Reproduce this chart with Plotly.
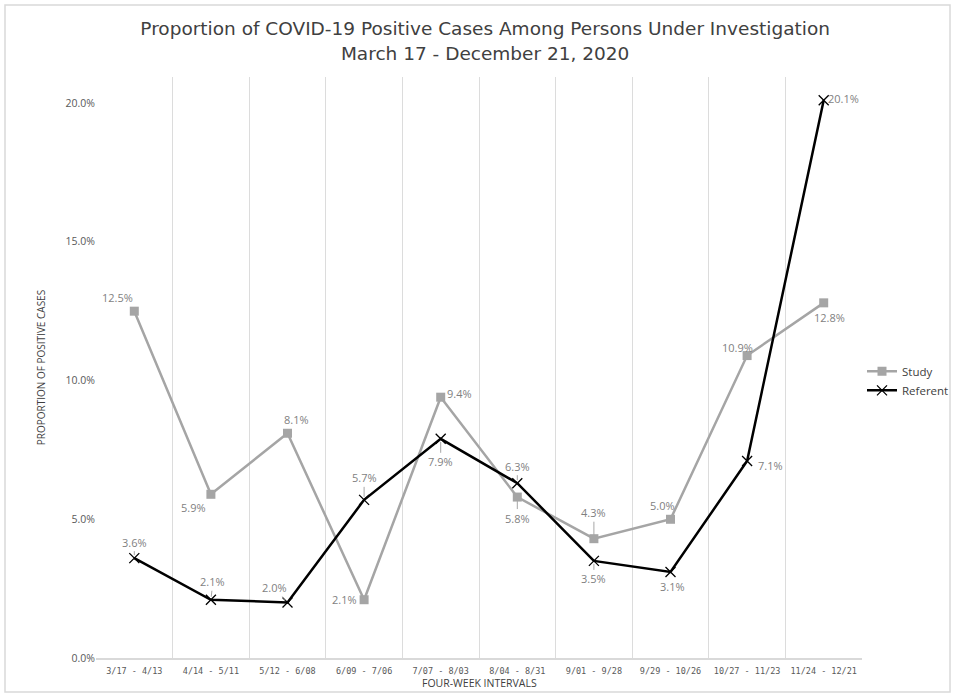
import plotly.graph_objects as go

intervals = ["3/17 - 4/13", "4/14 - 5/11", "5/12 - 6/08", "6/09 - 7/06", "7/07 - 8/03",
             "8/04 - 8/31", "9/01 - 9/28", "9/29 - 10/26", "10/27 - 11/23", "11/24 - 12/21"]
study = [12.5, 5.9, 8.1, 2.1, 9.4, 5.8, 4.3, 5.0, 10.9, 12.8]
referent = [3.6, 2.1, 2.0, 5.7, 7.9, 6.3, 3.5, 3.1, 7.1, 20.1]
y_ticks = [0, 5, 10, 15, 20]

# label offsets (px, right / up) and whether a leader line is drawn
study_off = [(-17, 14), (-17, -13), (9, 14), (-20, 0), (19, 4), (0, -21), (0, 26), (-8, 14), (-10, 8), (6, -15)]
study_lead = [False, False, False, False, False, True, True, False, False, False]
ref_off = [(0, 16), (2, 18), (-13, 15), (0, 22), (0, -23), (0, 17), (0, -18), (2, -15), (23, -4), (20, 2)]
ref_lead = [True, True, True, True, True, True, True, False, False, False]

fig = go.Figure()
fig.add_trace(go.Scatter(
    x=intervals, y=study, name="Study", mode="lines+markers",
    line=dict(color="#a5a5a5", width=2.5),
    marker=dict(symbol="square", size=9, color="#a5a5a5"),
))
fig.add_trace(go.Scatter(
    x=intervals, y=referent, name="Referent", mode="lines+markers",
    line=dict(color="#000000", width=2.5),
    marker=dict(symbol="x-thin", size=10, color="#000000", line=dict(width=1.3, color="#000000")),
))

label_font = dict(family="Open Sans, sans-serif", size=11, color="#7f7f7f")
annots = []
for ys, offs, leads in ((study, study_off, study_lead), (referent, ref_off, ref_lead)):
    for xv, yv, (dx, dy), lead in zip(intervals, ys, offs, leads):
        if lead:
            annots.append(dict(x=xv, y=yv, text=f"{yv:.1f}%", showarrow=True,
                               ax=dx, ay=-dy, arrowhead=0, arrowwidth=1, arrowcolor="#a6a6a6",
                               standoff=3, font=label_font))
        else:
            annots.append(dict(x=xv, y=yv, text=f"{yv:.1f}%", showarrow=False,
                               xshift=dx, yshift=dy, font=label_font))

annots.append(dict(x=0.5, y=-0.0585, xref="paper", yref="paper", text="FOUR-WEEK INTERVALS",
                   showarrow=False, yanchor="bottom",
                   font=dict(family="Open Sans, sans-serif", size=10.5, color="#404040")))
annots.append(dict(x=-0.084, y=0.5, xref="paper", yref="paper", text="PROPORTION OF POSITIVE CASES",
                   showarrow=False, textangle=-90,
                   font=dict(family="Open Sans, sans-serif", size=10, color="#404040")))

fig.update_layout(
    width=955, height=696,
    margin=dict(l=96, r=93, t=77, b=38, autoexpand=False),
    paper_bgcolor="white", plot_bgcolor="white",
    title=dict(text="Proportion of COVID-19 Positive Cases Among Persons Under Investigation<br>March 17 - December 21, 2020",
               x=0.508, xanchor="center", y=0.949, yanchor="top",
               font=dict(family="DejaVu Sans, sans-serif", size=18.5, color="#404040")),
    annotations=annots,
    showlegend=True,
    legend=dict(x=1.0, y=0.477, xanchor="left", yanchor="middle", bgcolor="rgba(0,0,0,0)",
                font=dict(family="Open Sans, sans-serif", size=11.5, color="#404040"),
                itemwidth=30),
    xaxis=dict(type="category", tickson="boundaries", showgrid=True, gridcolor="#dcdcdc", gridwidth=1.2,
               showline=True, linecolor="#d9d9d9", linewidth=1.5, ticks="", automargin=False,
               ticklabelstandoff=4,
               tickfont=dict(family="DejaVu Sans Mono, monospace", size=8.5, color="#595959"),
               range=[-0.5, 9.5], fixedrange=True),
    yaxis=dict(range=[0, 20.94], tickvals=y_ticks, ticktext=[f"{v:.1f}%" for v in y_ticks],
               showgrid=False, zeroline=False, showline=False, ticks="", automargin=False,
               tickfont=dict(family="Open Sans, sans-serif", size=10.5, color="#595959")),
    shapes=[dict(type="rect", xref="paper", yref="paper", x0=-0.1188, x1=1.1149, y0=-0.0585, y1=1.1239,
                 line=dict(color="#d9d9d9", width=1.5))],
)

fig.write_html("out.html", config={"displayModeBar": False},
               post_script="document.body.style.margin='0';")
